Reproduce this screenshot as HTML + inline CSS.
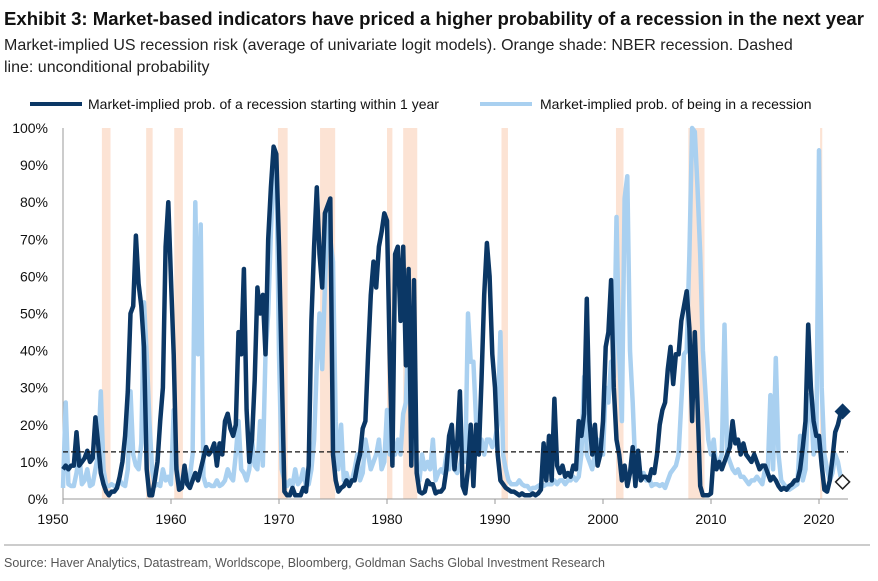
<!DOCTYPE html>
<html><head><meta charset="utf-8">
<style>
body{margin:0;background:#fff;width:878px;height:576px;overflow:hidden;font-family:"Liberation Sans",Arial,sans-serif;}
svg text{font-family:"Liberation Sans",Arial,sans-serif;}
</style></head>
<body>
<svg id="chart" width="878" height="576" viewBox="0 0 878 576">
<text x="4" y="25" font-size="18" font-weight="bold" fill="#111" style="font-family:'Liberation Sans Narrow','Liberation Sans',sans-serif" textLength="860" lengthAdjust="spacingAndGlyphs">Exhibit 3: Market-based indicators have priced a higher probability of a recession in the next year</text>
<text x="4" y="50" font-size="16" fill="#222">Market-implied US recession risk (average of univariate logit models). Orange shade: NBER recession. Dashed</text>
<text x="4" y="72" font-size="16" fill="#222">line: unconditional probability</text>
<g>
<line x1="30" y1="104" x2="82" y2="104" stroke="#0b3765" stroke-width="4"/>
<text x="88" y="109" font-size="14" fill="#111">Market-implied prob. of a recession starting within 1 year</text>
<line x1="480" y1="104" x2="532" y2="104" stroke="#a9d0f0" stroke-width="4"/>
<text x="540" y="109" font-size="14" fill="#111">Market-implied prob. of being in a recession</text>
</g>
<g id="plot"></g>
<line x1="4" y1="545" x2="870" y2="545" stroke="#999" stroke-width="1"/>
<text x="4" y="567" font-size="12.5" fill="#555" textLength="601" lengthAdjust="spacingAndGlyphs">Source: Haver Analytics, Datastream, Worldscope, Bloomberg, Goldman Sachs Global Investment Research</text>
</svg>
<script>
const startYear = 1950;
const step = 0.25;
const recessions = [[1953.6,1954.4],[1957.7,1958.3],[1960.3,1961.1],[1969.9,1970.8],[1973.8,1975.2],[1980.0,1980.5],[1981.5,1982.8],[1990.6,1991.2],[2001.2,2001.9],[2007.9,2009.4],[2020.1,2020.3]];
const yTicks = [0,10,20,30,40,50,60,70,80,90,100];
const xTicks = [1950,1960,1970,1980,1990,2000,2010,2020];
const unconditional = 12.7;
const latestStarting = 23.6;
const latestIn = 4.6;
const starting = [
8,9,8,9, 9,18,9,10, 11,13,10,11, 22,15,7,4, 2,1,2,2, 3,6,10,17, 29,50,52,71, 58,52,41,8, 1,1,5,10, 21,30,68,80,
59,39,8,2.5, 3,9,4,3, 5,7,5,8, 11,14,12,13, 15,9,15,12, 21,23,19,17, 20,45,39,62, 24,10,16,32, 57,50,55,39, 70,84,95,93,
68,35,2,1, 1,3,1,1, 1,3,2,9, 48,68,84,66, 57,77,79,81, 12,5,2,3, 3.5,5,3.5,5, 5,9,12,19, 21,39,55,64, 57,68,72,77,
75,39,9,66, 68,48,68,36, 62,9,59,7, 2,1.5,2,5, 4,4,1.5,2, 2,3,8,17, 20,8,15,29, 3.5,1.5,8,20, 3.5,20,12,32, 55,69,60,39,
30,12,5,4, 3,2.5,2,2, 1.5,1,1.5,1, 1,1,1.5,1, 1.5,2.5,15,5, 17,5,27,9, 7,9,6,7, 6,9,8,21, 17,23,54,21, 12,20,9,12,
21,41,45,59, 30,16,12,5, 9,3.5,7,14, 3.5,13,5,6, 6,5,8,7, 12,20,24,26, 35,41,31,39, 39,48,52,56, 46,21,45,26, 3.5,1,1,1,
1.5,12,8,10, 8,10,12,14, 21,15,16,12, 15,12,11,10, 12,10,8,9, 9,7,5,6, 5,3.5,2.5,3, 2.5,3.5,4,5, 5,8,14,21, 47,30,21,17,
17,9,2.5,2, 5,11,18,20, 23];
const inRecession = [
3,26,4,3.5, 3.5,7,12,4, 5,8,3.5,4, 8,12,29,8, 3.5,3.5,4,3.5, 3.5,5,4,3.5, 8,29,12,9, 8,15,53,39, 21,8,3.5,4, 3.5,8,5,6,
4,24,9,4, 3.5,5,4,6, 12,80,39,74, 6,3.5,4,3.5, 3.5,5,3.5,4, 5,8,6,5, 12,21,8,7, 5,8,16,9, 8,21,9,39, 50,72,89,91,
39,8,5,3.5, 5,3.5,8,4, 5,8,3.5,4, 8,16,36,50, 35,57,78,70, 64,21,8,20, 5,7,4,5, 8,12,5,7, 16,12,8,10, 12,16,8,10,
24,12,16,12, 16,12,23,26, 48,26,20,8, 5,12,8,10, 8,16,5,7, 8,7,12,8, 14,8,7,9, 12,10,50,37, 37,21,16,16, 12,16,16,14,
16,20,45,12, 8,5,4,4, 4,5,4,3.5, 3.5,2.5,3,3, 3.5,4,3.5,4, 4,4,5,4, 5,5,4,5, 5,6,5,6, 12,33,12,10, 8,12,16,12,
12,30,26,37, 33,76,39,21, 81,87,40,26, 8,12,5,7, 5,6,3.5,4, 4,3.5,4,3, 5,7,8,9, 12,26,39,40, 66,100,99,84, 66,40,28,16,
12,16,8,10, 12,47,12,10, 8,7,8,6, 6,5,4,5, 5,6,5,4, 8,7,28,8, 38,12,5,4, 3,2.5,3,3.5, 4,17,5,8, 28,26,12,14,
94,30,12,8, 5,7,12,10, 6];

const X0=63, PX_PER_YEAR=10.8, Y0=499, PX_PER_PCT=3.71;
const xs = y => X0 + (y-1950)*PX_PER_YEAR;
const ys = v => Y0 - v*PX_PER_PCT;
const NS="http://www.w3.org/2000/svg";
const plot=document.getElementById('plot');
function mk(tag, attrs){const e=document.createElementNS(NS,tag);for(const k in attrs)e.setAttribute(k,attrs[k]);plot.appendChild(e);return e;}

recessions.forEach(r=>{
  const e=mk('rect',{x:xs(r[0]),y:ys(100),width:Math.max(2,xs(r[1])-xs(r[0])),height:ys(0)-ys(100),fill:'#fce3d4'});
  
  
});
yTicks.forEach(t=>{
  const e=mk('text',{x:48,y:ys(t)+5,'font-size':14,'text-anchor':'end',fill:'#111'});
  e.textContent=t+'%';
  
  
});
const ax=mk('line',{x1:X0,y1:ys(100),x2:X0,y2:Y0,stroke:'#999','stroke-width':1});


const bx=mk('line',{x1:X0,y1:Y0,x2:848,y2:Y0,stroke:'#999','stroke-width':1});


xTicks.forEach(t=>{
  const l=mk('line',{x1:xs(t),y1:Y0,x2:xs(t),y2:Y0+5,stroke:'#999'});
  
  
  const e=mk('text',{x:xs(t)-(t===1950?10:0),y:524,'font-size':14,'text-anchor':'middle',fill:'#111'});
  e.textContent=t;
  
  
});
function pathFor(arr){return arr.map((v,i)=>(i?'L':'M')+xs(startYear+i*step).toFixed(1)+','+ys(v).toFixed(1)).join('');}
const lp=mk('path',{d:pathFor(inRecession),fill:'none',stroke:'#a9d0f0','stroke-width':4.5,'stroke-linejoin':'round'});


const dp=mk('path',{d:pathFor(starting),fill:'none',stroke:'#0b3765','stroke-width':4.5,'stroke-linejoin':'round'});


const uc=mk('line',{x1:X0,y1:ys(unconditional),x2:848,y2:ys(unconditional),stroke:'#111','stroke-width':1.2,'stroke-dasharray':'5,3'});


const endX=xs(startYear+(starting.length-1)*step)+2;
function diamond(cx,cy,fill,stroke,name){const s=7;const e=mk('polygon',{points:`${cx},${cy-s} ${cx+s},${cy} ${cx},${cy+s} ${cx-s},${cy}`,fill:fill,stroke:stroke,'stroke-width':1.5});

}
diamond(endX,ys(latestStarting),'#0b3765','#0b3765','latest-starting-marker');
diamond(endX,ys(latestIn),'#ffffff','#222','latest-in-recession-marker');
</script>
</body></html>
